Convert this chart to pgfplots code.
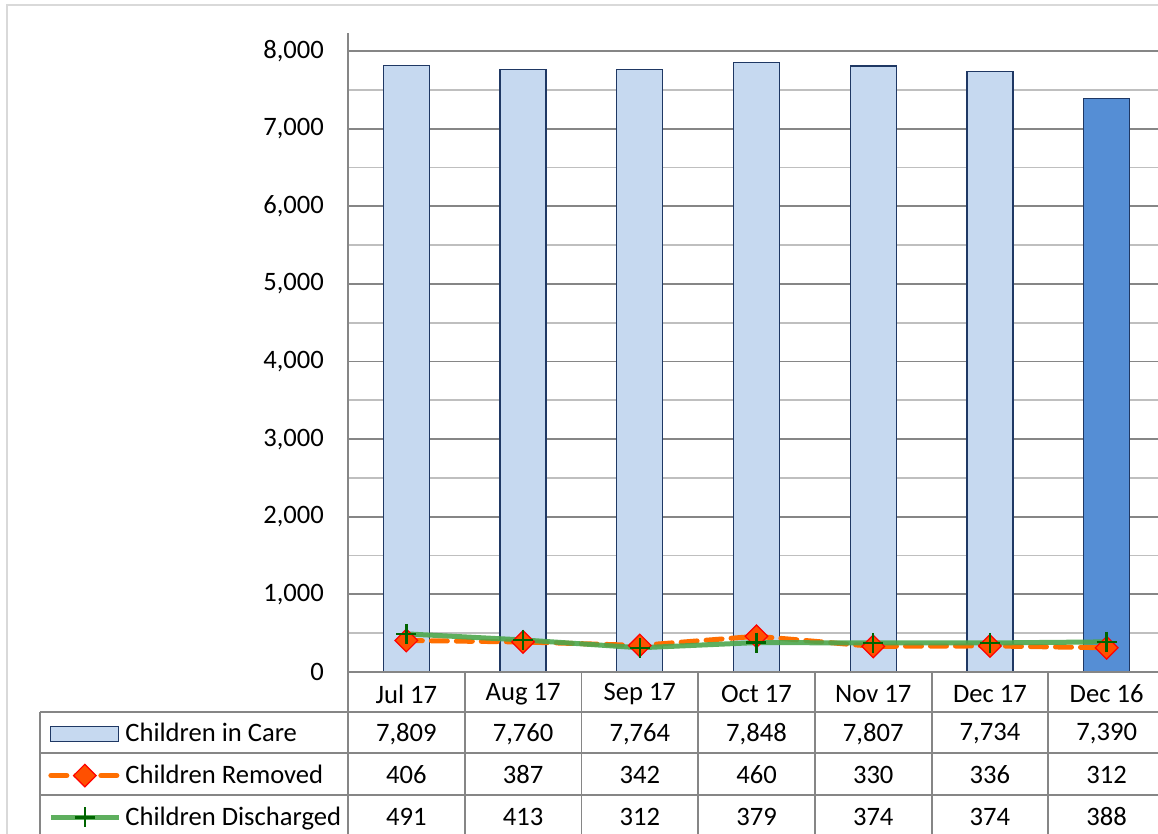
\documentclass[border=0pt]{standalone}
\usepackage{pgfplots}
\pgfplotsset{compat=1.18}
\usepackage{fontspec}
\setmainfont{Carlito}
\definecolor{barlight}{RGB}{198,217,240}
\definecolor{bardark}{RGB}{85,142,213}
\definecolor{baredge}{RGB}{31,56,100}
\definecolor{remline}{RGB}{255,110,0}
\definecolor{remmark}{RGB}{255,80,0}
\definecolor{disline}{RGB}{76,166,76}
\definecolor{dismark}{RGB}{0,100,0}
\definecolor{majgrid}{RGB}{134,134,134}
\definecolor{mingrid}{RGB}{191,191,191}
\definecolor{tabline}{RGB}{134,134,134}
\pgfplotsset{
  barlegend/.style={legend image code/.code={\draw[##1] (0pt,-3.75pt) rectangle (34pt,3.75pt);}},
  linelegend/.style={legend image code/.code={\draw[##1, mark repeat=2, mark phase=2] plot coordinates {(0pt,0pt) (17pt,0pt) (34pt,0pt)};}},
}
\begin{document}
\begin{tikzpicture}[font=\fontsize{13.3pt}{15pt}\selectfont]
\begin{axis}[
  scale only axis,
  width=405pt, height=319.5pt,
  at={(0,0)}, anchor=south west,
  xmin=-0.5, xmax=6.44,
  ymin=0, ymax=8232,
  ytick={0,1000,...,8000},
  minor ytick={500,1500,...,7500},
  xtick={0,...,6},
  xticklabels={Jul 17,Aug 17,Sep 17,Oct 17,Nov 17,Dec 17,Dec 16},
  xticklabel style={anchor=center, yshift=-11pt},
  major tick length=0pt, minor tick length=0pt,
  ymajorgrids, yminorgrids,
  major grid style={majgrid, line width=0.9pt},
  minor grid style={mingrid, line width=0.9pt},
  axis x line*=bottom, axis y line*=left,
  axis line style={tabline, line width=0.9pt, -},
  x axis line style={draw=none},
  yticklabel style={xshift=-8.5pt},
  /pgf/number format/.cd, 1000 sep={,}, assume math mode=true,
  /pgfplots/.cd,
  clip=false,
  legend cell align=left,
  legend style={at={(axis description cs:-0.3704,-0.0729)}, anchor=north west,
    draw=none, fill=none, inner sep=0pt, row sep=6.2pt,
    font=\fontsize{13.3pt}{15pt}\selectfont},
]
\addplot[ybar, bar width=23pt, bar shift=0pt, fill=barlight, draw=baredge, line width=0.6pt, barlegend]
  coordinates {(0,7809) (1,7760) (2,7764) (3,7848) (4,7807) (5,7734)};
\addlegendentry{Children in Care}
\addplot[ybar, bar width=23pt, bar shift=0pt, fill=bardark, draw=baredge, line width=0.6pt, forget plot]
  coordinates {(6,7390)};
\addplot[remline, line width=2.5pt, dash pattern=on 8pt off 4.5pt, line cap=round,
  mark=square*, mark size=4pt, mark options={rotate=45, solid, fill=remmark, draw=red, line width=0.6pt},
  linelegend]
  coordinates {(0,406) (1,387) (2,342) (3,460) (4,330) (5,336) (6,312)};
\addlegendentry{Children Removed}
\addplot[disline, line width=2.5pt, draw opacity=0.9,
  mark=+, mark size=5pt, mark options={dismark, line width=1.2pt, draw opacity=1},
  linelegend]
  coordinates {(0,491) (1,413) (2,312) (3,379) (4,374) (5,374) (6,388)};
\addlegendentry{Children Discharged}
\end{axis}
% chart area outline
\draw[gray!30, line width=0.8pt] (-170.5pt,-81pt) -- (-170.5pt,333.5pt) -- (405pt,333.5pt);
% data table
\draw[tabline, line width=0.9pt] (0pt,0pt) -- (405pt,0pt);
\foreach \yy in {-20,-40.5,-61.5}
  \draw[tabline, line width=0.9pt] (-154pt,\yy pt) -- (405pt,\yy pt);
\draw[tabline, line width=0.9pt] (-154pt,-20pt) -- (-154pt,-81pt);
\draw[tabline, line width=0.9pt] (0pt,0pt) -- (0pt,-81pt);
\foreach \k in {1,...,6}
  \draw[tabline, line width=0.9pt] (\k*58.36pt,0pt) -- (\k*58.36pt,-81pt);
\foreach \v [count=\i from 0] in {{7,809},{7,760},{7,764},{7,848},{7,807},{7,734},{7,390}}
  \node[anchor=center] at ({(\i+0.5)*58.36pt},-31pt) {\v};
\foreach \v [count=\i from 0] in {406,387,342,460,330,336,312}
  \node[anchor=center] at ({(\i+0.5)*58.36pt},-51.5pt) {\v};
\foreach \v [count=\i from 0] in {491,413,312,379,374,374,388}
  \node[anchor=center] at ({(\i+0.5)*58.36pt},-72.5pt) {\v};
\pgfresetboundingbox
\useasboundingbox (-174pt,-81pt) rectangle (405pt,336pt);
\end{tikzpicture}
\end{document}
